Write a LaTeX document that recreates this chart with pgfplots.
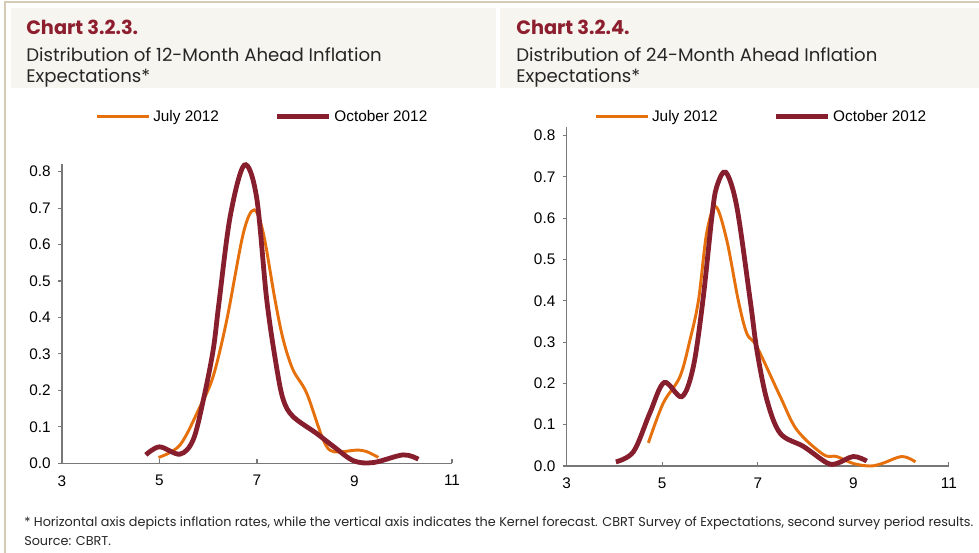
\documentclass[border=0pt]{standalone}
\usepackage{fontspec}
\setmainfont{Poppins}
\newfontfamily\arialf{Liberation Sans}
\usepackage{pgfplots}
\pgfplotsset{compat=1.18}
\definecolor{framec}{RGB}{214,203,180}
\definecolor{bandc}{RGB}{246,245,240}
\definecolor{titlered}{RGB}{140,30,45}
\definecolor{orangec}{RGB}{230,112,12}
\definecolor{darkredc}{RGB}{135,30,45}
\definecolor{axisc}{RGB}{120,120,120}

\pgfplotsset{
  kde/.style={
    scale only axis,
    xmin=3, xmax=11, ymin=0, ymax=0.82,
    xtick={3,5,7,9,11},
    ytick={0,0.1,0.2,0.3,0.4,0.5,0.6,0.7,0.8},
    yticklabel style={/pgf/number format/fixed,/pgf/number format/fixed zerofill,/pgf/number format/precision=1},
    axis lines=left,
    axis line style={-, draw=axisc, line width=0.8pt},
    every tick/.style={draw=axisc, line width=0.8pt},
    major tick length=3pt,
    ytick align=outside,
    xtick align=inside,
    tick label style={font=\arialf\fontsize{11.5}{13}\selectfont, text=black},
    /pgf/number format/assume math mode=true,
    xticklabel style={yshift=-5.5pt},
    yticklabel style={xshift=-2pt},
    legend columns=2,
    legend cell align=left,
    legend style={draw=none, fill=none, font=\arialf\fontsize{11.5}{13}\selectfont,
      /tikz/every even column/.append style={column sep=40pt},
      anchor=center},
    legend image code/.code={\draw[#1] (0pt,0pt) -- (39pt,0pt);},
    clip=false,
  },
  jul/.style={orangec, line width=2.2pt, smooth, tension=0.55, no markers},
  oct/.style={darkredc, line width=3.6pt, smooth, tension=0.55, no markers},
}

\begin{document}
\begin{tikzpicture}
\useasboundingbox (0,0) rectangle (734.25pt,414.75pt);
\fill[white] (0,0) rectangle (734.25pt,414.75pt);
\begin{scope}[x=0.75pt,y=-0.75pt,shift={(0,-553)}]
  \draw[framec, line width=1.4pt] (5,553) -- (5,2) -- (979,2);
  \fill[bandc] (11,8) rectangle (496,88);
  \fill[bandc] (500,8) rectangle (979,88);
  \node[anchor=base west, inner sep=0, text=titlered, font=\bfseries\fontsize{14.5}{16}\selectfont] at (26,35) {Chart 3.2.3.};
  \node[anchor=base west, inner sep=0, text=black!85, font=\fontsize{13.6}{15}\selectfont] at (26,62) {Distribution of 12-Month Ahead Inflation};
  \node[anchor=base west, inner sep=0, text=black!85, font=\fontsize{13.6}{15}\selectfont] at (26,83) {Expectations*};
  \node[anchor=base west, inner sep=0, text=titlered, font=\bfseries\fontsize{14.5}{16}\selectfont] at (516,35) {Chart 3.2.4.};
  \node[anchor=base west, inner sep=0, text=black!85, font=\fontsize{13.6}{15}\selectfont] at (516,62) {Distribution of 24-Month Ahead Inflation};
  \node[anchor=base west, inner sep=0, text=black!85, font=\fontsize{13.6}{15}\selectfont] at (516,83) {Expectations*};
  \node[anchor=base west, inner sep=0, text=black!85, font=\fontsize{9.6}{11}\selectfont] at (24,527) {* Horizontal axis depicts inflation rates, while the vertical axis indicates the Kernel forecast. CBRT Survey of Expectations, second survey period results.};
  \node[anchor=base west, inner sep=0, text=black!85, font=\fontsize{9.6}{11}\selectfont] at (24,546) {Source: CBRT.};
\end{scope}

\begin{axis}[kde, at={(46.5pt,67.3pt)}, anchor=south west, width=292.5pt, height=224.2pt,
  legend style={at={(0.515,1.159)}}]
\addplot[jul] coordinates {(4.98,0.016) (5.42,0.05) (5.83,0.155) (6.10,0.238) (6.38,0.393) (6.72,0.631) (6.94,0.695) (7.13,0.631) (7.37,0.448) (7.54,0.338) (7.74,0.256) (8.02,0.192) (8.36,0.064) (8.57,0.032) (9.04,0.036) (9.25,0.032) (9.49,0.016)};
\addlegendentry{July 2012}
\addplot[oct] coordinates {(4.72,0.023) (5.0,0.045) (5.42,0.025) (5.69,0.064) (5.90,0.174) (6.10,0.31) (6.22,0.44) (6.45,0.677) (6.74,0.818) (6.99,0.731) (7.20,0.448) (7.40,0.265) (7.54,0.174) (7.74,0.128) (8.22,0.082) (8.57,0.046) (8.98,0.007) (9.39,0.002) (10.0,0.023) (10.31,0.011)};
\addlegendentry{October 2012}
\end{axis}

\begin{axis}[kde, at={(425pt,65.25pt)}, anchor=south west, width=286.7pt, height=254pt,
  legend style={at={(0.51,1.031)}}]
\addplot[jul] coordinates {(4.71,0.056) (5.02,0.152) (5.37,0.216) (5.58,0.305) (5.76,0.402) (5.93,0.564) (6.12,0.628) (6.35,0.547) (6.59,0.402) (6.77,0.321) (6.98,0.289) (7.47,0.168) (7.82,0.087) (8.37,0.028) (8.65,0.023) (9.0,0.006) (9.35,0.0) (9.6,0.006) (10.02,0.023) (10.3,0.010)};
\addlegendentry{July 2012}
\addplot[oct] coordinates {(4.03,0.010) (4.40,0.035) (4.74,0.128) (5.04,0.202) (5.41,0.168) (5.65,0.24) (5.85,0.40) (6.04,0.604) (6.14,0.676) (6.33,0.711) (6.56,0.628) (6.84,0.402) (6.98,0.281) (7.19,0.16) (7.47,0.079) (7.96,0.047) (8.44,0.008) (8.65,0.006) (9.0,0.023) (9.28,0.012)};
\addlegendentry{October 2012}
\end{axis}
\end{tikzpicture}
\end{document}
